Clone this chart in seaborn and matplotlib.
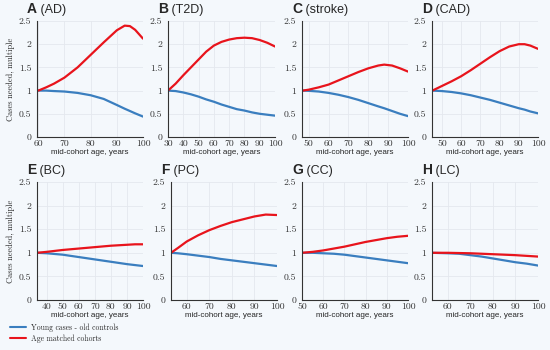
"""
Cases needed (multiple) vs mid-cohort age for eight diseases
"""

import matplotlib
matplotlib.use("Agg")
import matplotlib.pyplot as plt
import seaborn as sns
import pandas as pd

# panel letters / titles
letters = ["A", "B", "C", "D", "E", "F", "G", "H"]
titles = ["(AD)", "(T2D)", "(stroke)", "(CAD)", "(BC)", "(PC)", "(CC)", "(LC)"]

# ages sampled for each panel
ages_A = [60, 63, 66, 70, 75, 80, 85, 90, 93, 95, 97, 100]
ages_B = [30, 35, 40, 45, 50, 55, 60, 65, 70, 75, 80, 85, 90, 95, 100]
ages_C = [47, 50, 55, 60, 65, 70, 75, 80, 85, 88, 92, 96, 100]
ages_D = [45, 50, 55, 60, 65, 70, 75, 80, 85, 90, 93, 96, 100]
ages_E = [34, 40, 50, 60, 70, 80, 90, 95, 100]
ages_F = [53, 56, 60, 65, 70, 75, 80, 85, 90, 95, 100]
ages_G = [50, 55, 60, 65, 70, 75, 80, 85, 90, 95, 100]
ages_H = [53, 60, 65, 70, 75, 80, 85, 90, 95, 100]

# age matched cohorts (red)
red_A = [1.0, 1.07, 1.15, 1.28, 1.5, 1.77, 2.04, 2.3, 2.4, 2.39, 2.31, 2.12]
red_B = [1.0, 1.15, 1.33, 1.5, 1.67, 1.84, 1.97, 2.05, 2.1, 2.13, 2.14, 2.13, 2.09, 2.03, 1.95]
red_C = [1.0, 1.02, 1.07, 1.13, 1.22, 1.31, 1.4, 1.48, 1.54, 1.56, 1.54, 1.48, 1.41]
red_D = [1.0, 1.1, 1.2, 1.31, 1.44, 1.58, 1.72, 1.85, 1.95, 2.0, 2.0, 1.97, 1.9]
red_E = [1.0, 1.02, 1.06, 1.09, 1.12, 1.15, 1.17, 1.18, 1.18]
red_F = [1.0, 1.1, 1.24, 1.37, 1.48, 1.57, 1.65, 1.71, 1.77, 1.81, 1.8]
red_G = [1.0, 1.02, 1.05, 1.09, 1.13, 1.18, 1.23, 1.27, 1.31, 1.34, 1.36]
red_H = [1.0, 1.0, 0.995, 0.99, 0.98, 0.97, 0.96, 0.95, 0.935, 0.92]

# young cases - old controls (blue)
blue_A = [1.0, 1.0, 0.99, 0.98, 0.95, 0.9, 0.82, 0.69, 0.61, 0.56, 0.51, 0.44]
blue_B = [1.0, 0.99, 0.96, 0.92, 0.87, 0.81, 0.76, 0.7, 0.65, 0.6, 0.57, 0.53, 0.5, 0.48, 0.46]
blue_C = [1.0, 0.995, 0.98, 0.95, 0.91, 0.86, 0.8, 0.73, 0.66, 0.62, 0.56, 0.5, 0.45]
blue_D = [1.0, 0.99, 0.97, 0.94, 0.9, 0.85, 0.8, 0.74, 0.68, 0.62, 0.59, 0.55, 0.51]
blue_E = [1.0, 0.99, 0.96, 0.91, 0.86, 0.81, 0.76, 0.74, 0.72]
blue_F = [1.0, 0.99, 0.97, 0.94, 0.91, 0.87, 0.84, 0.81, 0.78, 0.75, 0.72]
blue_G = [1.0, 1.0, 0.99, 0.98, 0.96, 0.93, 0.9, 0.87, 0.84, 0.81, 0.78]
blue_H = [1.0, 0.99, 0.98, 0.95, 0.92, 0.88, 0.84, 0.8, 0.77, 0.73]

ages = [ages_A, ages_B, ages_C, ages_D, ages_E, ages_F, ages_G, ages_H]
reds = [red_A, red_B, red_C, red_D, red_E, red_F, red_G, red_H]
blues = [blue_A, blue_B, blue_C, blue_D, blue_E, blue_F, blue_G, blue_H]

xticks = [
    [60, 70, 80, 90, 100],
    [30, 40, 50, 60, 70, 80, 90, 100],
    [50, 60, 70, 80, 90, 100],
    [50, 60, 70, 80, 90, 100],
    [40, 50, 60, 70, 80, 90, 100],
    [60, 70, 80, 90, 100],
    [50, 60, 70, 80, 90, 100],
    [60, 70, 80, 90, 100],
]
yticks = [0, 0.5, 1, 1.5, 2, 2.5]
ytick_labels = ["0", "0.5", "1", "1.5", "2", "2.5"]

labels = ["Young cases - old controls", "Age matched cohorts"]

BG = "#f4f8fc"
BLUE = "#3a7ebf"
RED = "#e8141c"

sns.set_theme(style="whitegrid")
plt.rcParams["axes.formatter.use_mathtext"] = True

fig = plt.figure(figsize=(5.5, 3.5), dpi=100, facecolor=BG)

# axes boxes in pixels (left, top, right, bottom)
boxes = [
    (37, 21, 143, 137), (168, 21, 275, 137), (302, 21, 408, 137), (432, 21, 538, 137),
    (37, 182, 143, 300), (171, 182, 277, 300), (302, 182, 408, 300), (432, 182, 538, 300),
]
xlims = [(59.5, 100), (30, 100), (46.6, 100), (44.8, 100),
         (34, 100), (53, 100), (50, 100), (53, 100)]

W, H = 550.0, 350.0
for i, (l, t, r, b) in enumerate(boxes):
    ax = fig.add_axes([l / W, 1 - b / H, (r - l) / W, (b - t) / H])
    ax.set_facecolor(BG)

    df = pd.DataFrame({"age": ages[i] * 2,
                       "value": blues[i] + reds[i],
                       "series": [labels[0]] * len(ages[i]) + [labels[1]] * len(ages[i])})
    sns.lineplot(data=df, x="age", y="value", hue="series",
                 palette={labels[0]: BLUE, labels[1]: RED},
                 linewidth=1.6, legend=False, ax=ax)

    ax.set_xlim(*xlims[i])
    ax.set_ylim(0, 2.5)
    ax.set_xticks(xticks[i])
    ax.set_xticklabels([str(v) for v in xticks[i]], family="cmr10", fontsize=7)
    ax.set_yticks(yticks)
    ax.set_yticklabels(ytick_labels, family="cmr10", fontsize=7)
    ax.tick_params(axis="both", length=0, colors="#333333")
    ax.tick_params(axis="y", pad=4)
    ax.tick_params(axis="x", pad=2)
    ax.grid(color="#e4e8ee", linewidth=0.6)

    for side in ["top", "right"]:
        ax.spines[side].set_visible(False)
    for side in ["left", "bottom"]:
        ax.spines[side].set_color("#333333")
        ax.spines[side].set_linewidth(0.8)

    ax.set_xlabel("mid-cohort age, years", family="Liberation Sans",
                  fontsize=5.8, labelpad=0.5)
    if i % 4 == 0:
        ax.set_ylabel("Cases needed, multiple", family="cmr10", fontsize=6, labelpad=3)
    else:
        ax.set_ylabel("")

    t_letter = ax.text(-10 / (r - l), 1.04, letters[i], transform=ax.transAxes,
                       family="Liberation Sans", fontweight="bold", fontsize=10,
                       va="bottom", ha="left")
    ax.annotate(" " + titles[i], xy=(1, 0), xycoords=t_letter,
                family="Liberation Sans", fontsize=9, va="bottom", ha="left")

handles = [plt.Line2D([], [], color=BLUE, lw=1.5),
           plt.Line2D([], [], color=RED, lw=1.5)]
fig.legend(handles, labels, loc="lower left", bbox_to_anchor=(0.005, 0.0),
           frameon=False, prop={"family": "cmr10", "size": 5.5},
           handlelength=2.2, handletextpad=0.6, labelspacing=0.4)

plt.savefig("out.png", dpi=100, facecolor=BG)
plt.close()
